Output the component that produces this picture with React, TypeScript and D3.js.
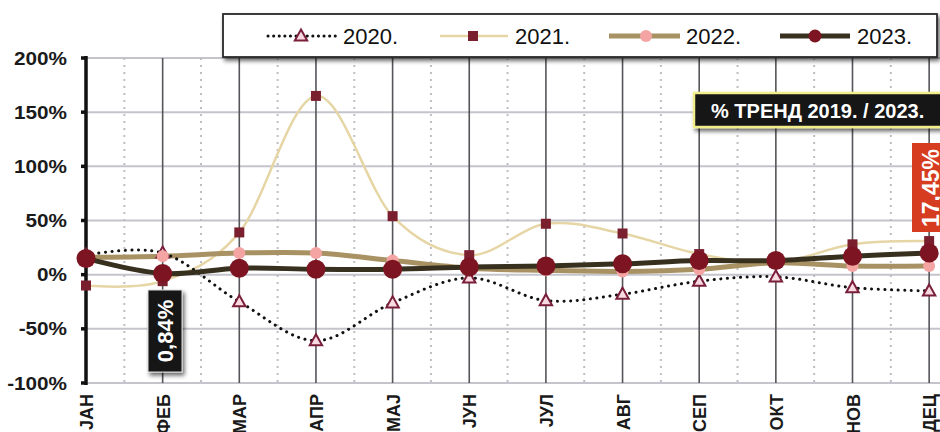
import React from "react";
import * as d3 from "d3";

const months = ["ЈАН", "ФЕБ", "МАР", "АПР", "МАЈ", "ЈУН", "ЈУЛ", "АВГ", "СЕП", "ОКТ", "НОВ", "ДЕЦ"];
const s2020 = [18, 20, -25, -61, -26, -3, -24, -18, -6, -2, -12, -15];
const s2021 = [-10, -6, 39, 165, 54, 18, 47, 38, 19, 11, 28, 31];
const s2022 = [16, 17, 20, 20, 13, 6, 4, 3, 5, 11, 8, 8];
const s2023 = [15, 1, 6, 5, 5, 7, 8, 10, 13, 13, 17, 20];
const yTicks = [200, 150, 100, 50, 0, -50, -100];
const legendItems = ["2020.", "2021.", "2022.", "2023."];
const trendTitle = "% ТРЕНД  2019. / 2023.";
const febLabel = "0,84%";
const trendValue = "17,45%";

const W = 940;
const H = 432;
const x0 = 86;
const xStep = 76.65;

export default function App() {
  const x = d3.scaleLinear().domain([0, 11]).range([x0, x0 + xStep * 11]);
  const y = d3.scaleLinear().domain([-100, 200]).range([383, 58]);
  const curve = d3.curveCardinal.tension(0);
  const line = d3
    .line<number>()
    .x((_, i) => x(i))
    .y((v) => y(v))
    .curve(curve);
  const font = "Arial, 'Liberation Sans', sans-serif";
  const tri = (cx: number, cy: number, r: number) =>
    `M${cx},${cy - r}L${cx + r * 0.95},${cy + r * 0.7}L${cx - r * 0.95},${cy + r * 0.7}Z`;

  return (
    <svg width={W} height={H} style={{ position: "absolute", left: 0, top: 0, background: "#fff" }} fontFamily={font}>
      <defs>
        <filter id="sh" x="-10%" y="-20%" width="130%" height="160%">
          <feGaussianBlur in="SourceAlpha" stdDeviation="2" />
          <feOffset dx="2" dy="3" result="o" />
          <feComponentTransfer>
            <feFuncA type="linear" slope="0.6" />
          </feComponentTransfer>
          <feMerge>
            <feMergeNode />
            <feMergeNode in="SourceGraphic" />
          </feMerge>
        </filter>
      </defs>
      <rect x={0} y={0} width={W} height={H} fill="#fff" />
      {/* horizontal grid */}
      {yTicks.map((t) => (
        <line key={"h" + t} x1={x0} x2={W} y1={y(t)} y2={y(t)} stroke="#c4c4cc" strokeWidth={2} />
      ))}
      {/* minor dotted verticals */}
      {months.map((_, i) => (
        <line
          key={"m" + i}
          x1={x(i + 0.5)}
          x2={x(i + 0.5)}
          y1={y(200)}
          y2={y(-100)}
          stroke="#bdbdc4"
          strokeWidth={2}
          strokeDasharray="2,5"
        />
      ))}
      {/* major verticals */}
      {months.map((_, i) =>
        i === 0 ? null : (
          <line key={"v" + i} x1={x(i)} x2={x(i)} y1={y(200)} y2={y(-100)} stroke="#55555a" strokeWidth={1.6} />
        )
      )}
      {/* y axis */}
      <line x1={x0} x2={x0} y1={y(200) - 2} y2={y(-100) + 2} stroke="#111" strokeWidth={3.5} />
      {yTicks.map((t) => (
        <g key={"yt" + t}>
          <line x1={x0 - 5} x2={x0} y1={y(t)} y2={y(t)} stroke="#111" strokeWidth={3.5} />
          <text
            transform={`translate(67,${y(t) + 6.5}) scale(1.12,1)`}
            textAnchor="end"
            fontSize={18.5}
            fontWeight="bold"
            fill="#1a1a1a"
          >
            {t + "%"}
          </text>
        </g>
      ))}
      {/* x labels */}
      {months.map((m, i) => (
        <text
          key={"xl" + i}
          transform={`translate(${x(i) + 7},${394}) rotate(-90)`}
          textAnchor="end"
          fontSize={18}
          fontWeight="bold"
          fill="#1a1a1a"
        >
          {m}
        </text>
      ))}
      {/* series 2021 */}
      <path d={line(s2021) || ""} fill="none" stroke="#e6d6a6" strokeWidth={2.5} />
      {/* series 2022 */}
      <path d={line(s2022) || ""} fill="none" stroke="#a89264" strokeWidth={5} />
      {/* series 2020 */}
      <path d={line(s2020) || ""} fill="none" stroke="#111" strokeWidth={3} strokeDasharray="0.1,6.5" strokeLinecap="round" />
      {/* series 2023 */}
      <path d={line(s2023) || ""} fill="none" stroke="#38301f" strokeWidth={5} />
      {/* markers 2021 */}
      {s2021.map((v, i) => (
        <rect key={"q" + i} x={x(i) - 5} y={y(v) - 5} width={10} height={10} fill="#7a1f2e" />
      ))}
      {/* markers 2020 */}
      {s2020.map((v, i) => (
        <path key={"t" + i} d={tri(x(i), y(v), 6.5)} fill="#f8dbe2" stroke="#7a1f3a" strokeWidth={2} />
      ))}
      {/* markers 2022 */}
      {s2022.map((v, i) => (
        <circle key={"p" + i} cx={x(i)} cy={y(v)} r={6} fill="#f4a4a2" />
      ))}
      {/* markers 2023 */}
      {s2023.map((v, i) => (
        <circle key={"c" + i} cx={x(i)} cy={y(v)} r={9.5} fill="#7c1422" />
      ))}
      {/* legend */}
      <g filter="url(#sh)">
        <rect x={223} y={14} width={714} height={43} fill="#fff" stroke="#2a2a2a" strokeWidth={1.8} />
      </g>
      <line x1={268} x2={336} y1={36} y2={36} stroke="#111" strokeWidth={3} strokeDasharray="0.1,5.5" strokeLinecap="round" />
      <path d={tri(301, 36, 6.5)} fill="#f8dbe2" stroke="#7a1f3a" strokeWidth={2} />
      <line x1={440} x2={508} y1={36} y2={36} stroke="#e6d6a6" strokeWidth={2.5} />
      <rect x={468} y={31} width={10} height={10} fill="#7a1f2e" />
      <line x1={609} x2={680} y1={36} y2={36} stroke="#a89264" strokeWidth={5} />
      <circle cx={646} cy={36} r={6} fill="#f4a4a2" />
      <line x1={780} x2={850} y1={36} y2={36} stroke="#38301f" strokeWidth={5} />
      <circle cx={815} cy={36} r={6.5} fill="#7c1422" />
      {legendItems.map((t, i) => (
        <text key={"lg" + i} x={[343, 515, 686, 857][i]} y={44} fontSize={22} fill="#111">
          {t}
        </text>
      ))}
      {/* trend title box */}
      <g filter="url(#sh)">
        <rect x={694} y={93} width={260} height={34} fill="#141414" stroke="#f2ee8c" strokeWidth={2.5} />
      </g>
      <text x={711} y={118} fontSize={20} fontWeight="bold" fill="#fff">
        {trendTitle}
      </text>
      {/* trend value box */}
      <rect x={912} y={143} width={40} height={89} fill="#d63c20" />
      <text transform="translate(939,188) rotate(-90)" textAnchor="middle" fontSize={23} fontWeight="bold" fill="#fff">
        {trendValue}
      </text>
      {/* feb label */}
      <g filter="url(#sh)">
        <rect x={148} y={290} width={34} height={82} fill="#141414" stroke="#ddd" strokeWidth={1} />
      </g>
      <text transform="translate(173,331) rotate(-90)" textAnchor="middle" fontSize={22} fontWeight="bold" fill="#fff">
        {febLabel}
      </text>
    </svg>
  );
}
